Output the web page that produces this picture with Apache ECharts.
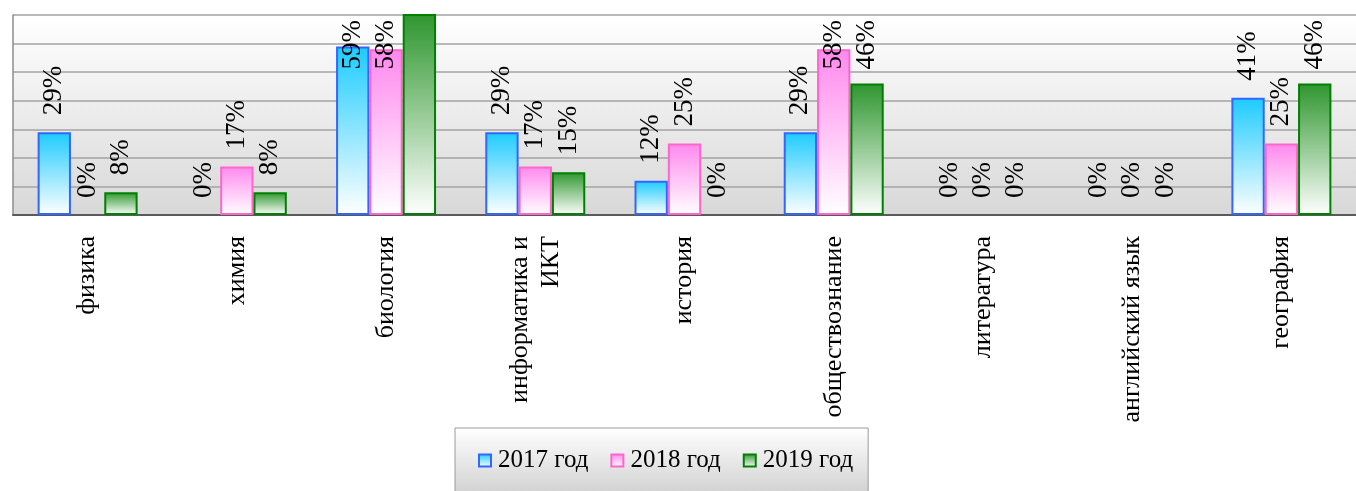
<!DOCTYPE html>
<html>
<head>
<meta charset="utf-8">
<script src="https://cdn.jsdelivr.net/npm/echarts@6/dist/echarts.min.js"></script>
<style>
html,body{margin:0;padding:0;background:#fff;}
#c{width:1356px;height:491px;}
</style>
</head>
<body>
<div id="c"></div>
<script>
const categories = ['физика','химия','биология','информатика и\nИКТ','история','обществознание','литература','английский язык','география'];
const seriesNames = ['2017 год','2018 год','2019 год'];
const y2017 = [29,0,59,29,12,29,0,0,41];
const y2018 = [0,17,58,17,25,58,0,0,25];
const y2019 = [8,8,77,15,0,46,0,0,46];
const yMin = 0, yMax = 70, yStep = 10;

const serif = "'Liberation Serif','Times New Roman',serif";
const labelFont = 27;
const labelGap = 17;
const labelTopLimit = 20;
function grad(top){
  return new echarts.graphic.LinearGradient(0,0,0,1,[{offset:0,color:top},{offset:1,color:'#ffffff'}]);
}
const styles = [
  {fill:'#1ccbff', border:'#3366ff'},
  {fill:'#ff88ee', border:'#ff66cc'},
  {fill:'#2e962e', border:'#008000'}
];
const values = [y2017,y2018,y2019];

const cv = document.createElement('canvas').getContext('2d');
cv.font = labelFont + 'px ' + serif;

const chart = echarts.init(document.getElementById('c'));
function buildSeries(toPx){
  return values.map((arr,i)=>({
    name:seriesNames[i], type:'bar',
    barGap:'0%', barCategoryGap:'33%',
    data: arr.map(v => {
      if (v > yMax) return {value:v, label:{show:false}};
      const item = {value:v};
      if (v === 0) item.itemStyle = {borderWidth:0};
      if (toPx) {
        const top = toPx(v);
        const len = cv.measureText(v + '%').width;
        const d = Math.min(labelGap, top - len - labelTopLimit);
        item.label = {distance:d};
      }
      return item;
    }),
    itemStyle:{color:grad(styles[i].fill), borderColor:styles[i].border, borderWidth:2},
    label:{show:true, position:'top', distance:labelGap, rotate:90, align:'left', verticalAlign:'middle',
      formatter:'{c}%', fontFamily:serif, fontSize:labelFont, color:'#000'}
  }));
}
chart.setOption({
  animation:false,
  grid:{left:13, top:15, width:1347, height:200, show:true, borderWidth:0,
    backgroundColor:new echarts.graphic.LinearGradient(0,0,0,1,[{offset:0,color:'#ffffff'},{offset:1,color:'#d8d8d8'}])},
  legend:{
    left:455, top:428,
    padding:[20,15,40,23],
    backgroundColor:new echarts.graphic.LinearGradient(0,0,0,1,[{offset:0,color:'#ffffff'},{offset:1,color:'#c4c4c4'}]),
    borderColor:'#9a9a9a', borderWidth:1,
    itemWidth:12, itemHeight:12, itemGap:22,
    icon:'rect',
    textStyle:{fontFamily:serif, fontSize:25, color:'#000', padding:[0,0,0,2]},
    data:seriesNames
  },
  xAxis:{
    type:'category', data:categories,
    axisLine:{lineStyle:{color:'#5a5a5a', width:2}},
    axisTick:{length:7, lineStyle:{color:'#5a5a5a', width:1}},
    axisLabel:{rotate:90, interval:0, margin:21, fontFamily:serif, fontSize:26, color:'#000', lineHeight:31}
  },
  yAxis:{
    type:'value', min:yMin, max:yMax, interval:yStep,
    axisLine:{show:true, lineStyle:{color:'#8c8c8c', width:1.5}},
    axisTick:{show:false},
    axisLabel:{show:false},
    splitLine:{lineStyle:{color:'#a3a3a3', width:1.5}}
  },
  series: buildSeries(null)
});
const toPx = v => chart.convertToPixel({gridIndex:0}, [0, v])[1];
chart.setOption({series: buildSeries(toPx)});
</script>
</body>
</html>
